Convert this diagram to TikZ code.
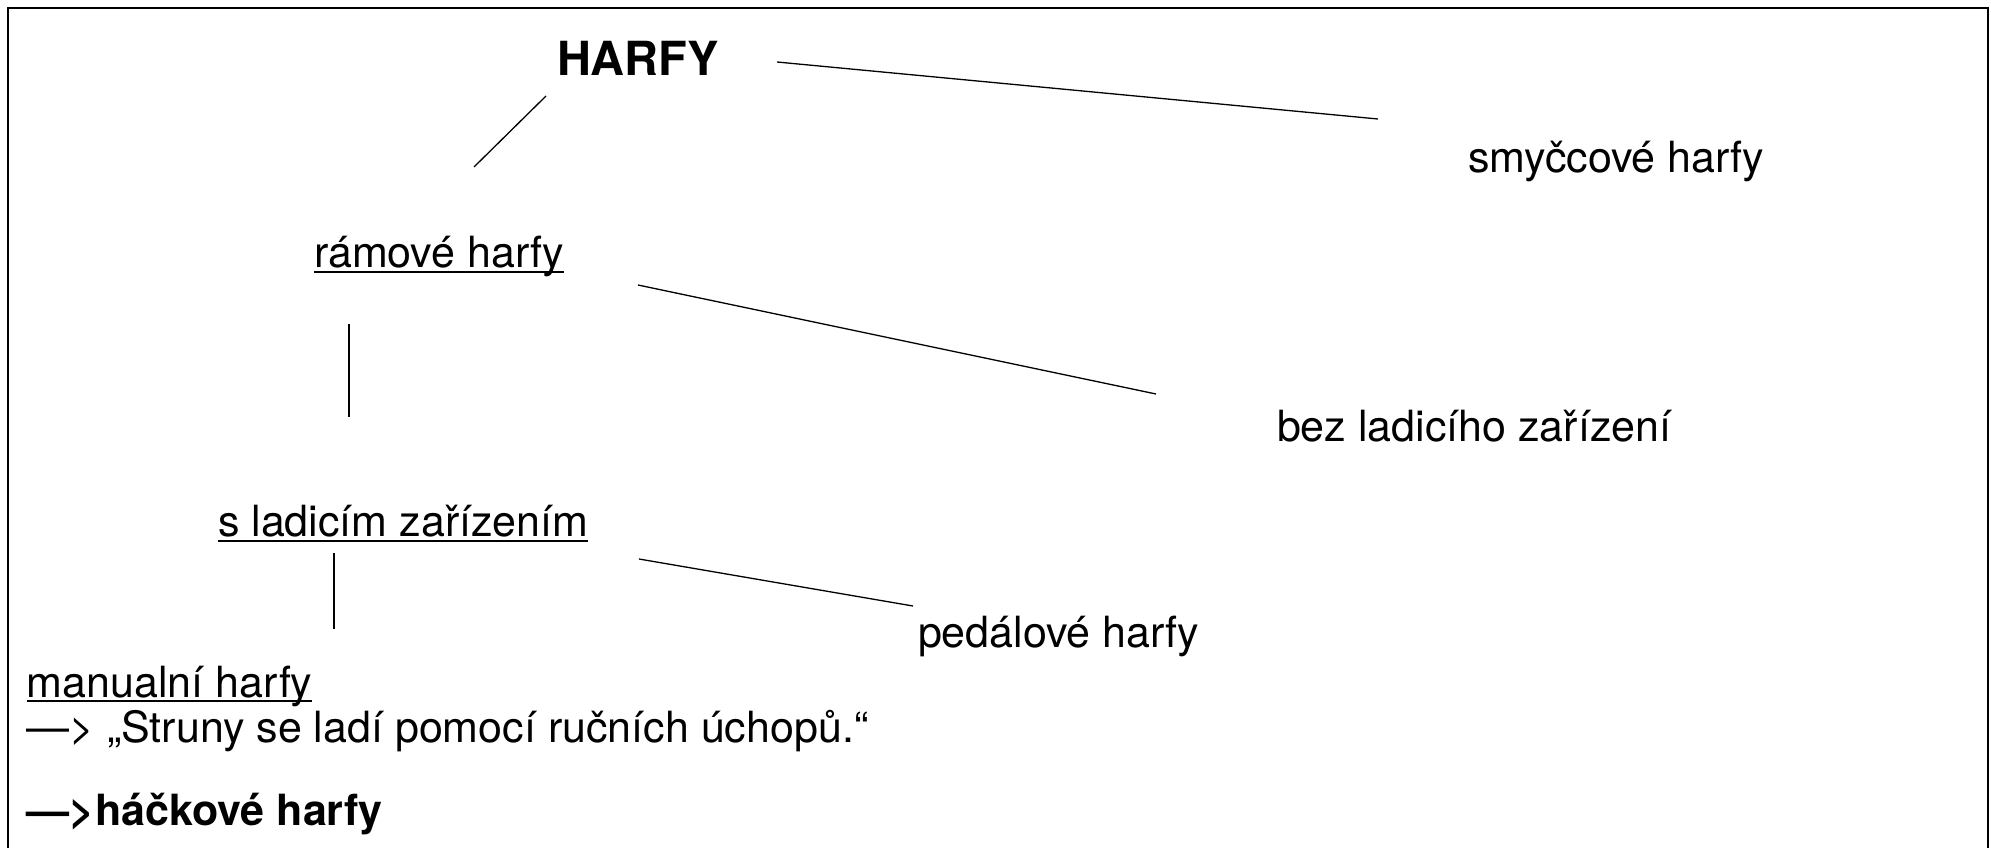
\documentclass[tikz,border=0pt]{standalone}
\usepackage{fontspec}
\setmainfont{TeX Gyre Heros}
\begin{document}
\begin{tikzpicture}[x=1pt,y=-1pt,
  lbl/.style={anchor=base west,inner sep=0pt,outer sep=0pt,font=\fontsize{43}{51}\selectfont},
  boldlbl/.style={lbl,font=\fontsize{43}{51}\selectfont\bfseries},
  conn/.style={line width=1.3pt,black},
  uline/.style={line width=2.2pt,black}]
\useasboundingbox (0,0) rectangle (1991,848);
\draw[line width=2.5pt] (8,870) -- (8,8) -- (1988,8) -- (1988,870);

\node[lbl,font=\fontsize{47}{56}\selectfont\bfseries] (harfy) at (557,76) {HARFY};
\node[lbl] (smyc) at (1468,172) {smyčcové harfy};
\node[lbl] (ram) at (314,267) {rámové harfy};
\node[lbl] (bez) at (1277,441) {bez ladicího zařízení};
\node[lbl] (sl) at (218,536) {s ladicím zařízením};
\node[lbl] (ped) at (918,647) {pedálové harfy};
\node[lbl] (man) at (27,697) {manualní harfy};
\node[lbl] (str) at (27,742) {—> „Struny se ladí pomocí ručních úchopů.“};
\node[boldlbl] (hac) at (27,825) {—>háčkové harfy};

% underlines
\draw[uline] ([yshift=-5pt]ram.base west) -- ([yshift=-5pt]ram.base east);
\draw[uline] ([yshift=-5pt]sl.base west) -- ([yshift=-5pt]sl.base east);
\draw[uline] ([yshift=-4pt]man.base west) -- ([yshift=-4pt]man.base east);

% connector end points
\coordinate (h1) at (777,62);
\coordinate (s1) at (1378,119);
\coordinate (h2) at (546,96);
\coordinate (r1) at (474,167);
\coordinate (r2) at (638,285);
\coordinate (b1) at (1156,394);
\coordinate (r3) at (349,324);
\coordinate (l1) at (349,417);
\coordinate (l2) at (639,559);
\coordinate (p1) at (913,606);
\coordinate (l3) at (334,553);
\coordinate (m1) at (334,629);

\draw[conn] (h1) -- (s1);
\draw[conn] (h2) -- (r1);
\draw[conn] (r2) -- (b1);
\draw[conn] (r3) -- (l1);
\draw[conn] (l2) -- (p1);
\draw[conn] (l3) -- (m1);
\end{tikzpicture}
\end{document}
